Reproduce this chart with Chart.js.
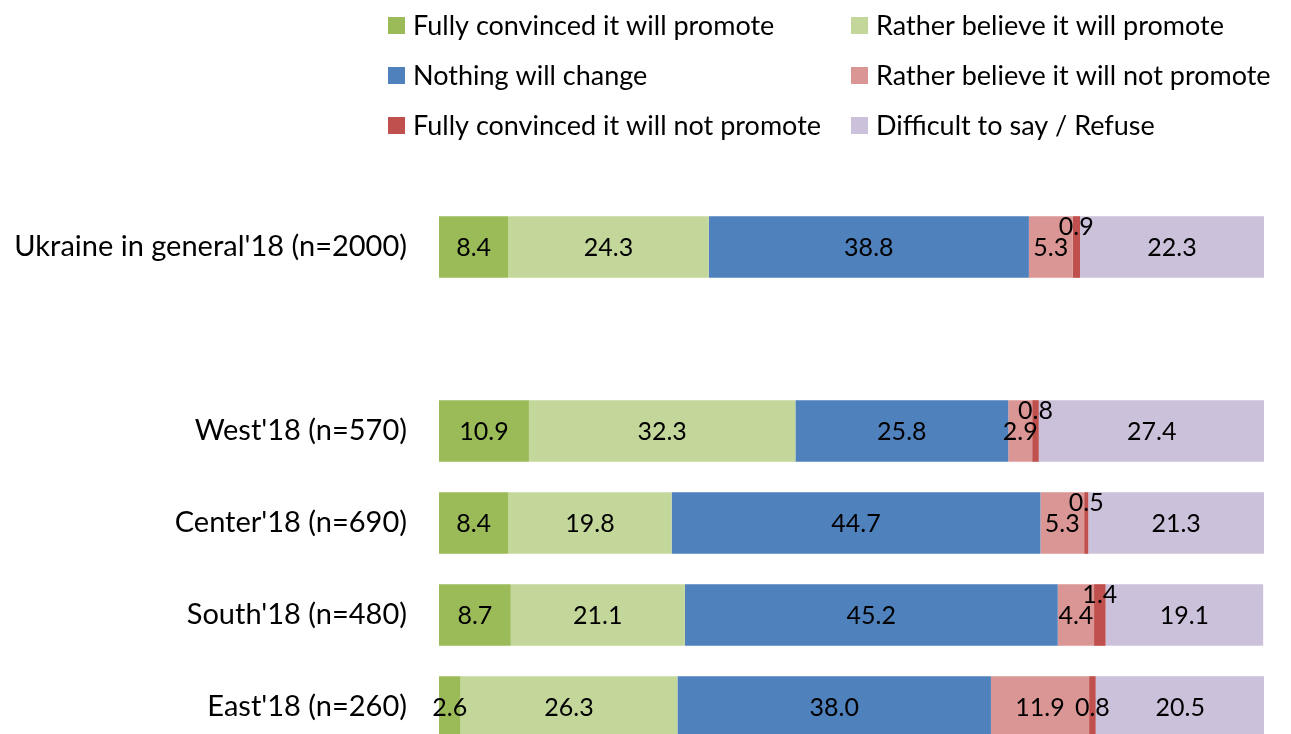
<!DOCTYPE html>
<html>
<head>
<meta charset="utf-8">
<script src="https://cdn.jsdelivr.net/npm/chart.js@4/dist/chart.umd.min.js"></script>
<style>
  html, body { margin: 0; padding: 0; background: #fff; overflow: hidden; }
  #wrap { position: absolute; left: 0; top: 0; width: 1291px; height: 760px; }
</style>
</head>
<body>
<div id="wrap"><canvas id="chart" width="1291" height="760"></canvas></div>
<script>
// Nhóm (hàng trống giữa cả nước và các vùng)
const categories = ["Ukraine in general'18 (n=2000)", "", "West'18 (n=570)", "Center'18 (n=690)", "South'18 (n=480)", "East'18 (n=260)"];

const seriesNames = [
    'Fully convinced it will promote',
    'Rather believe it will promote',
    'Nothing will change',
    'Rather believe it will not promote',
    'Fully convinced it will not promote',
    'Difficult to say / Refuse'
];

const fullyPromote    = [8.4, null, 10.9, 8.4, 8.7, 2.6];
const ratherPromote   = [24.3, null, 32.3, 19.8, 21.1, 26.3];
const nothingChange   = [38.8, null, 25.8, 44.7, 45.2, 38.0];
const ratherNot       = [5.3, null, 2.9, 5.3, 4.4, 11.9];
const fullyNot        = [0.9, null, 0.8, 0.5, 1.4, 0.8];
const difficult       = [22.3, null, 27.4, 21.3, 19.1, 20.5];

const colors = ['#9BBB59', '#C4D79B', '#4F81BD', '#DA9694', '#C0504D', '#CCC1DA'];

const FONT = 'Lato, "Open Sans", sans-serif';

// Chú thích 2 cột vẽ trên canvas
const legendPlugin = {
    id: 'twoColLegend',
    afterDraw(chart) {
        const ctx = chart.ctx;
        ctx.save();
        ctx.font = '27px ' + FONT;
        ctx.textBaseline = 'middle';
        ctx.textAlign = 'left';
        chart.data.datasets.forEach((ds, i) => {
            const col = i % 2, row = Math.floor(i / 2);
            const bx = col === 0 ? 388 : 851;
            const cy = 25 + row * 50;
            ctx.fillStyle = ds.backgroundColor;
            ctx.fillRect(bx, cy - 8, 17, 17);
            ctx.fillStyle = '#000';
            ctx.fillText(ds.label, bx + 25, cy + 1);
        });
        ctx.restore();
    }
};

// Nhãn giá trị ở giữa mỗi đoạn
const labelPlugin = {
    id: 'segLabels',
    afterDatasetsDraw(chart) {
        const ctx = chart.ctx;
        ctx.save();
        ctx.font = '25px ' + FONT;
        ctx.fillStyle = '#000';
        ctx.textAlign = 'center';
        ctx.textBaseline = 'middle';
        chart.data.datasets.forEach((ds, di) => {
            const meta = chart.getDatasetMeta(di);
            meta.data.forEach((el, i) => {
                const v = ds.data[i];
                if (v === null || v === undefined) return;
                const p = el.getProps(['x', 'y', 'base'], true);
                let y = p.y;
                // đoạn rất nhỏ nằm sát đoạn hẹp thì đẩy nhãn lên trên
                if (di === 4) {
                    const prev = chart.data.datasets[3].data[i];
                    if (prev < 8) y -= 21;
                }
                ctx.fillText(v.toFixed(1), (p.x + p.base) / 2, y + 1);
            });
        });
        ctx.restore();
    }
};

const series = [fullyPromote, ratherPromote, nothingChange, ratherNot, fullyNot, difficult];

new Chart(document.getElementById('chart').getContext('2d'), {
    type: 'bar',
    data: {
        labels: categories,
        datasets: series.map((d, i) => ({
            label: seriesNames[i],
            data: d,
            backgroundColor: colors[i],
            borderWidth: 0,
            categoryPercentage: 1,
            barPercentage: 0.67
        }))
    },
    options: {
        indexAxis: 'y',
        responsive: false,
        animation: false,
        // canvas cao hơn cửa sổ: hàng cuối bị cắt ở mép dưới như ảnh gốc
        layout: { padding: { top: 201, bottom: 7, left: 0, right: 27 } },
        plugins: {
            legend: { display: false },
            tooltip: { enabled: false }
        },
        scales: {
            x: { stacked: true, display: false, min: 0, max: 100 },
            y: {
                stacked: true,
                grid: { display: false, drawTicks: false },
                border: { display: false },
                ticks: { padding: 32, color: '#000', font: { family: FONT, size: 29 } },
                afterFit(scale) {
                    scale.width = 439;
                    scale.paddingTop = 0;
                    scale.paddingBottom = 0;
                }
            }
        }
    },
    plugins: [legendPlugin, labelPlugin]
});
</script>
</body>
</html>
